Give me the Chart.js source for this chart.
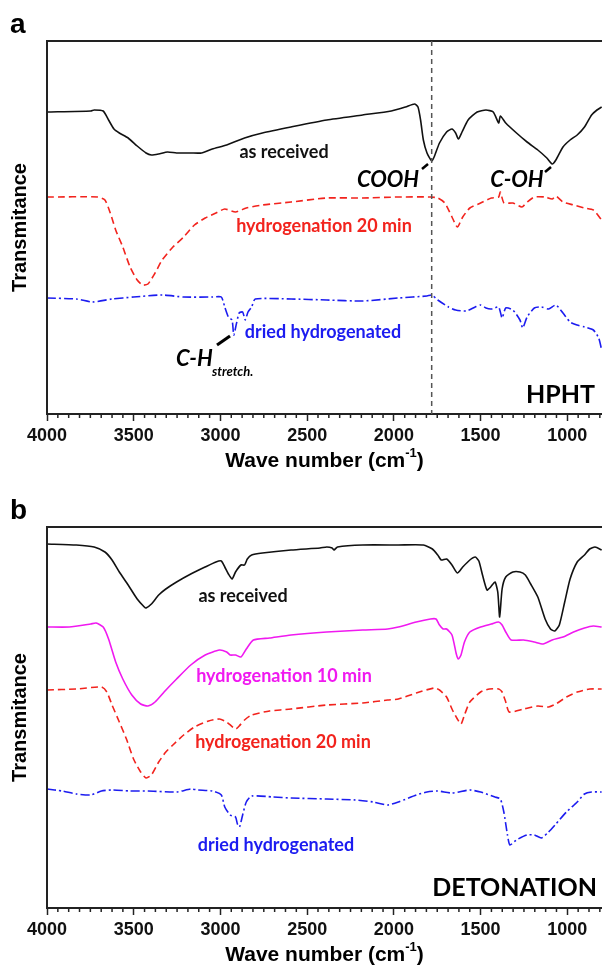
<!DOCTYPE html>
<html>
<head>
<meta charset="utf-8">
<script src="https://cdn.jsdelivr.net/npm/chart.js@4.4.1/dist/chart.umd.min.js"></script>
<style>
  html, body { margin: 0; padding: 0; background: #fff; }
  #wrap { position: relative; width: 602px; height: 970px; overflow: hidden; }
  .panel { position: absolute; left: 0; width: 602px; }
</style>
</head>
<body>
<div id="wrap">
  <div class="panel" style="top:0;height:486px"><canvas id="chartA" width="602" height="486"></canvas></div>
  <div class="panel" style="top:486px;height:484px"><canvas id="chartB" width="602" height="484"></canvas></div>
</div>
<script>
// x ticks (wave number, cm-1)
const xTickValues = [4000, 3500, 3000, 2500, 2000, 1500, 1000];
const coohLine = 1782;

// panel a - HPHT
const hphtRawWn = [4000,3748,3728,3676,3645,3614,3583,3532,3480,3429,3398,3356,3305,3253,3171,3109,3047,2964,2861,2758,2593,2387,2180,2015,1933,1881,1861,1846,1830,1809,1782,1768,1737,1696,1665,1644,1628,1607,1572,1520,1469,1427,1396,1386,1355,1293,1232,1170,1118,1087,1066,1025,984,943,901,860,829,802];
const hphtRawT  = [302,303,304,303,294,285,281,276,268,261,259,260,262,261,261,261,265,269,276,281,287,294,299,303,307,310,307,294,274,261,253,257,271,282,285,281,275,282,294,302,304,302,291,298,291,281,272,264,256,250,254,267,274,279,287,299,304,307];

const hphtH20Wn = [4000,3707,3666,3635,3604,3563,3521,3480,3449,3418,3377,3336,3274,3212,3150,3088,3026,2975,2913,2851,2758,2593,2387,2180,1974,1789,1747,1706,1665,1634,1603,1562,1500,1438,1396,1386,1365,1314,1262,1231,1190,1128,1087,1066,1025,964,901,850,802];
const hphtH20T  = [217,217,214,201,184,167,147,134,129,130,141,154,167,177,189,196,201,205,202,206,209,212,216,216,217,217,216,211,197,187,197,206,211,216,217,222,211,211,207,212,217,217,215,218,212,209,206,204,194];

const hphtDriedWn = [4000,3831,3738,3625,3501,3336,3212,3047,2995,2975,2954,2933,2923,2907,2892,2872,2857,2841,2820,2799,2593,2387,2180,1974,1809,1782,1747,1685,1644,1582,1531,1500,1469,1438,1396,1376,1355,1314,1273,1257,1232,1190,1149,1108,1066,1025,984,943,901,850,819,802];
const hphtDriedT  = [116,115,112,115,117,119,117,117,117,107,97,94,79,91,101,102,94,102,107,115,115,114,113,116,118,119,114,107,104,103,107,109,106,105,107,96,106,104,94,86,97,106,107,105,109,101,92,89,87,84,76,64];

// panel b - detonation
const detRawWn = [4000,3831,3728,3666,3625,3583,3532,3480,3439,3429,3398,3356,3315,3253,3171,3088,3026,2995,2975,2954,2933,2913,2882,2861,2845,2820,2758,2593,2426,2387,2356,2345,2325,2180,1974,1830,1778,1747,1727,1696,1665,1634,1603,1562,1531,1510,1489,1463,1442,1417,1401,1390,1376,1355,1314,1273,1242,1211,1170,1128,1097,1072,1046,1015,984,943,901,871,840,802];
const detRawT  = [364,363,361,356,348,336,323,309,301,300,304,313,319,326,334,341,346,347,341,334,329,336,343,343,349,353,355,358,360,361,360,358,361,363,363,363,359,353,348,349,343,335,341,348,351,347,333,318,321,326,316,291,319,331,336,336,333,324,311,289,279,277,283,306,329,346,353,359,361,358];

const detH10Wn = [4000,3872,3748,3717,3676,3645,3604,3563,3511,3460,3418,3377,3325,3253,3171,3088,3006,2964,2944,2913,2882,2851,2810,2717,2593,2387,2180,2036,1974,1871,1789,1757,1737,1716,1696,1665,1640,1628,1613,1593,1562,1500,1438,1396,1376,1355,1324,1252,1190,1139,1087,1025,964,901,850,802];
const detH10T  = [281,281,284,285,281,269,246,229,213,204,202,206,216,229,243,253,258,256,253,253,251,259,268,270,273,276,278,279,281,286,289,289,283,279,279,273,254,249,253,266,276,281,284,286,283,276,268,268,266,264,268,271,276,280,282,281];

const detH20Wn = [4000,3831,3686,3655,3625,3583,3542,3501,3460,3429,3398,3356,3315,3274,3212,3150,3068,3006,2964,2913,2892,2861,2820,2717,2593,2387,2180,2036,1974,1871,1768,1737,1696,1665,1634,1613,1593,1562,1500,1449,1396,1376,1355,1335,1252,1170,1108,1066,1005,943,871,802];
const detH20T  = [218,219,221,216,203,186,169,149,136,130,133,146,156,163,173,181,187,189,186,179,182,188,193,197,199,203,205,208,209,215,220,218,211,199,189,184,193,206,216,219,219,216,206,196,199,202,201,204,211,216,219,219];

const detDriedWn = [4000,3913,3831,3748,3686,3625,3521,3418,3253,3171,3129,3047,2995,2975,2944,2913,2902,2890,2872,2851,2820,2696,2593,2387,2222,2119,2036,1974,1871,1809,1747,1665,1562,1500,1417,1386,1366,1345,1331,1294,1232,1190,1149,1108,1066,1005,943,901,860,802];
const detDriedT  = [119,117,114,113,117,118,117,117,116,119,118,117,113,101,93,91,84,81,93,106,112,111,110,109,108,106,103,106,113,116,117,115,118,116,111,109,96,73,63,68,73,73,70,76,84,96,106,114,116,116];

const BLACK = '#111111', RED = '#f2231d', BLUE = '#1c1cf0', MAGENTA = '#f019f0';
const labelFont = 'Lato, "Open Sans", sans-serif';
const axisFont = '"Liberation Sans", Arial, sans-serif';

function pts(xs, ys) { return xs.map((x, i) => ({ x: x, y: ys[i] })); }

function series(xs, ys, color, dash) {
  return {
    data: pts(xs, ys),
    borderColor: color,
    borderWidth: 1.6,
    borderDash: dash || [],
    pointRadius: 0,
    tension: 0.2,
    fill: false
  };
}

// frame, minor ticks, axis titles and text labels
const decorPlugin = {
  id: 'decor',
  afterDraw(chart, args, opts) {
    const ctx = chart.ctx;
    const a = chart.chartArea;
    const xs = chart.scales.x;
    ctx.save();
    ctx.strokeStyle = '#222';
    ctx.lineWidth = 2;
    ctx.beginPath();
    ctx.moveTo(a.left, a.bottom);
    ctx.lineTo(a.left, a.top);
    ctx.lineTo(a.right + 2, a.top);
    ctx.stroke();

    // minor ticks
    ctx.lineWidth = 1.5;
    for (let v = 4000; v >= 800; v -= 62.5) {
      if (v % 500 === 0) continue;
      const px = xs.getPixelForValue(v);
      ctx.beginPath();
      ctx.moveTo(px, a.bottom);
      ctx.lineTo(px, a.bottom + 4);
      ctx.stroke();
    }

    if (opts.vline) {
      const px = xs.getPixelForValue(opts.vline);
      ctx.strokeStyle = '#555';
      ctx.lineWidth = 1.5;
      ctx.setLineDash([5, 4]);
      ctx.beginPath();
      ctx.moveTo(px, a.top);
      ctx.lineTo(px, a.bottom);
      ctx.stroke();
      ctx.setLineDash([]);
    }

    // panel letter
    ctx.fillStyle = '#000';
    ctx.font = 'bold 28px ' + axisFont;
    ctx.textAlign = 'left';
    ctx.textBaseline = 'alphabetic';
    ctx.fillText(opts.letter, 10, 33);

    // x title with superscript
    const midX = (a.left + a.right) / 2;
    const ty = a.bottom + 47;
    ctx.textBaseline = 'middle';
    const p1 = 'Wave number (cm', p3 = ')';
    ctx.font = 'bold 13px ' + axisFont;
    const wSup = ctx.measureText('-1').width;
    ctx.font = 'bold 21px ' + axisFont;
    const w1 = ctx.measureText(p1).width, w3 = ctx.measureText(p3).width;
    const x0 = midX - (w1 + wSup + w3) / 2;
    ctx.fillText(p1, x0, ty);
    ctx.font = 'bold 13px ' + axisFont;
    ctx.fillText('-1', x0 + w1, ty - 8);
    ctx.font = 'bold 21px ' + axisFont;
    ctx.fillText(p3, x0 + w1 + wSup, ty);

    // y title
    ctx.save();
    ctx.translate(20, (a.top + a.bottom) / 2);
    ctx.rotate(-Math.PI / 2);
    ctx.textAlign = 'center';
    ctx.font = 'bold 20px ' + axisFont;
    ctx.fillText('Transmitance', 0, 0);
    ctx.restore();

    // curve labels
    opts.labels.forEach(l => {
      ctx.fillStyle = l.color || '#000';
      ctx.font = l.font || ('bold 18px ' + labelFont);
      ctx.textAlign = l.align || 'center';
      ctx.textBaseline = 'middle';
      ctx.fillText(l.text, l.x, l.y);
    });

    // pointer strokes
    ctx.strokeStyle = '#000';
    (opts.pointers || []).forEach(p => {
      ctx.lineWidth = p.w;
      ctx.beginPath();
      ctx.moveTo(p.x1, p.y1);
      ctx.lineTo(p.x2, p.y2);
      ctx.stroke();
    });
    ctx.restore();
  }
};

function makeChart(id, datasets, yMax, top, axisH, decor) {
  return new Chart(document.getElementById(id), {
    type: 'line',
    data: { datasets: datasets },
    plugins: [decorPlugin],
    options: {
      responsive: false,
      animation: false,
      events: [],
      layout: { padding: { left: 47, right: 0, top: top, bottom: 0 } },
      plugins: { legend: { display: false }, tooltip: { enabled: false }, decor: decor },
      scales: {
        x: {
          type: 'linear',
          reverse: true,
          min: 800,
          max: 4000,
          afterBuildTicks: (scale) => { scale.ticks = xTickValues.map(v => ({ value: v })); },
          afterFit: (scale) => { scale.height = axisH; },
          ticks: {
            autoSkip: false,
            maxRotation: 0,
            padding: 4,
            color: '#111',
            font: { family: axisFont, weight: 'bold', size: 18 },
            callback: (v) => String(v)
          },
          grid: { drawOnChartArea: false, drawTicks: true, tickLength: 7, tickWidth: 1.5, tickColor: '#222' },
          border: { display: true, width: 2, color: '#222' }
        },
        y: { display: false, min: 0, max: yMax }
      }
    }
  });
}

makeChart('chartA', [
  series(hphtRawWn, hphtRawT, BLACK),
  series(hphtH20Wn, hphtH20T, RED, [7, 4]),
  series(hphtDriedWn, hphtDriedT, BLUE, [9, 3, 2, 3])
], 373, 41, 72, {
  letter: 'a',
  vline: coohLine,
  labels: [
    { text: 'as received', x: 284, y: 152, color: BLACK },
    { text: 'hydrogenation 20 min', x: 324, y: 226, color: RED },
    { text: 'dried hydrogenated', x: 323, y: 332, color: BLUE },
    { text: 'COOH', x: 388, y: 180, font: 'italic bold 22px ' + labelFont },
    { text: 'C-OH', x: 517, y: 180, font: 'italic bold 22px ' + labelFont },
    { text: 'C-H', x: 176, y: 359, align: 'left', font: 'italic bold 22px ' + labelFont },
    { text: 'stretch.', x: 212, y: 372, align: 'left', font: 'italic bold 13px ' + labelFont },
    { text: 'HPHT', x: 595, y: 395, align: 'right', font: 'bold 25px ' + labelFont }
  ],
  pointers: [
    { x1: 422, y1: 169, x2: 428, y2: 164, w: 2.5 },
    { x1: 545, y1: 172, x2: 551, y2: 167, w: 2.5 },
    { x1: 217, y1: 345, x2: 230, y2: 336, w: 3 }
  ]
});

makeChart('chartB', [
  series(detRawWn, detRawT, BLACK),
  series(detH10Wn, detH10T, MAGENTA),
  series(detH20Wn, detH20T, RED, [7, 4]),
  series(detDriedWn, detDriedT, BLUE, [9, 3, 2, 3])
], 381, 41, 62, {
  letter: 'b',
  labels: [
    { text: 'as received', x: 243, y: 110, color: BLACK },
    { text: 'hydrogenation 10 min', x: 284, y: 190, color: MAGENTA },
    { text: 'hydrogenation 20 min', x: 283, y: 256, color: RED },
    { text: 'dried hydrogenated', x: 276, y: 359, color: BLUE },
    { text: 'DETONATION', x: 597, y: 402, align: 'right', font: 'bold 25px ' + labelFont }
  ]
});
</script>
</body>
</html>
